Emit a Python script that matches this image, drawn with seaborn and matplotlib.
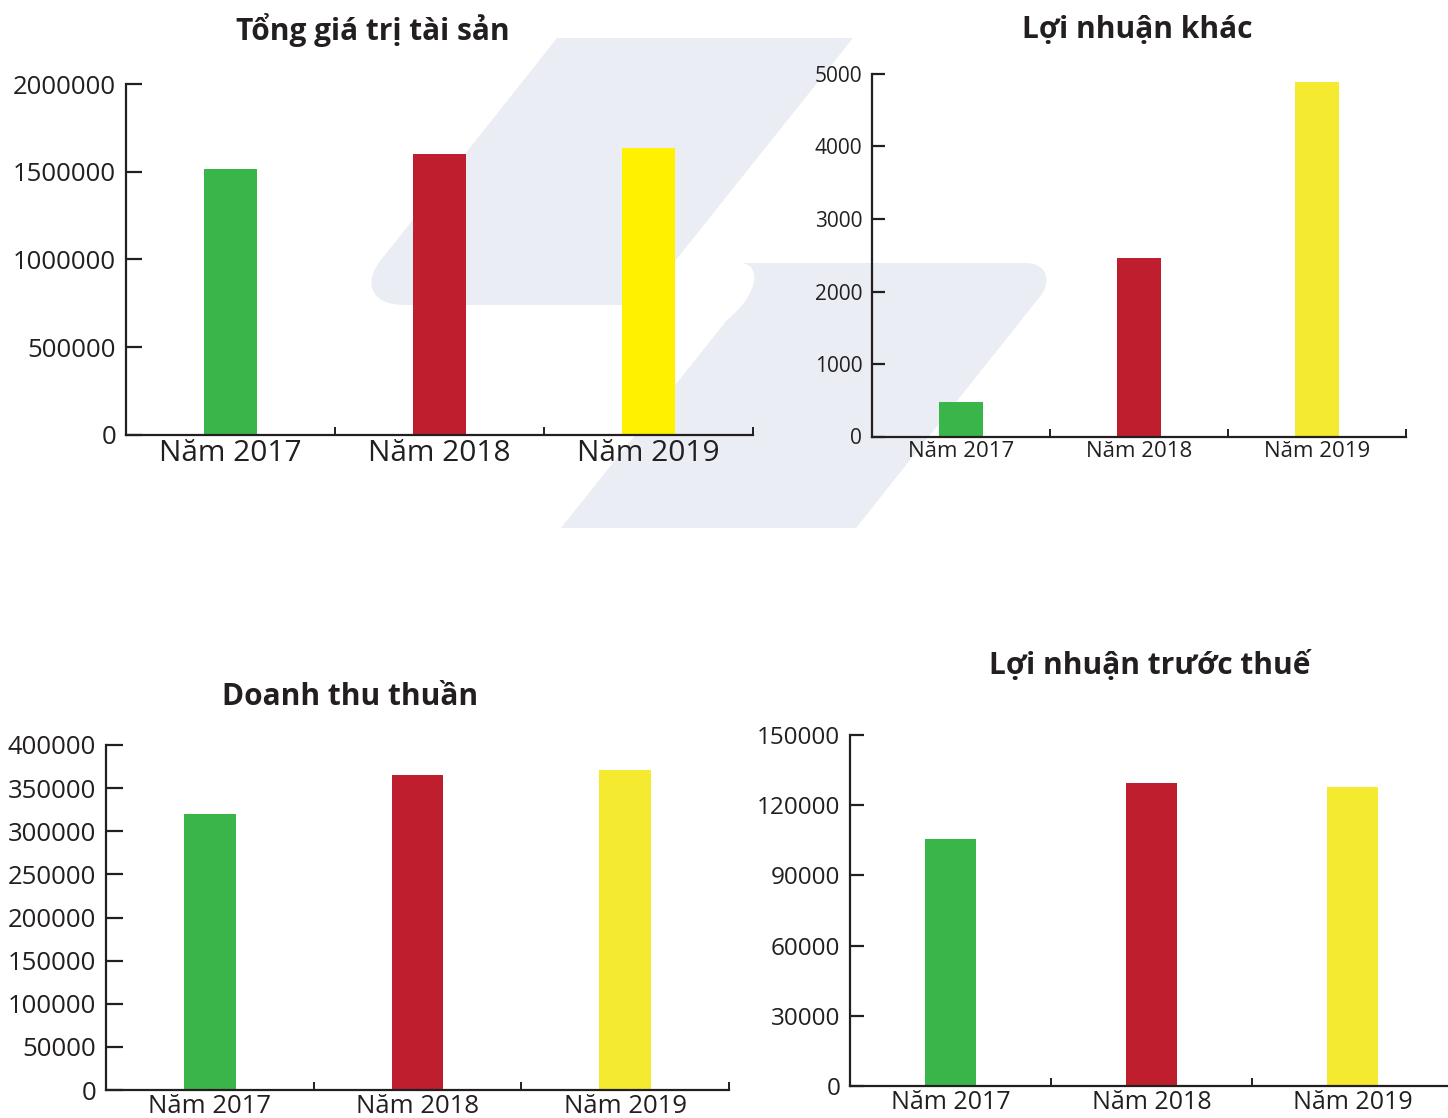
import matplotlib
matplotlib.use("Agg")
import matplotlib.pyplot as plt
from matplotlib.path import Path
from matplotlib.patches import PathPatch
import seaborn as sns
import pandas as pd

# ---- data -------------------------------------------------------------
years = ["Năm 2017", "Năm 2018", "Năm 2019"]

tong_gia_tri_tai_san = [1515000, 1600000, 1637000]
loi_nhuan_khac = [480, 2460, 4890]
doanh_thu_thuan = [320500, 365000, 371000]
loi_nhuan_truoc_thue = [105500, 129300, 127600]

ticks_tai_san = [0, 500000, 1000000, 1500000, 2000000]
ticks_ln_khac = [0, 1000, 2000, 3000, 4000, 5000]
ticks_doanh_thu = [0, 50000, 100000, 150000, 200000, 250000, 300000, 350000, 400000]
ticks_ln_truoc_thue = [0, 30000, 60000, 90000, 120000, 150000]

titles = ["Tổng giá trị tài sản", "Lợi nhuận khác", "Doanh thu thuần", "Lợi nhuận trước thuế"]

# ---- styling ----------------------------------------------------------
sns.set_theme(style="white")
plt.rcParams["font.family"] = ["Open Sans", "DejaVu Sans"]

GREEN = "#3AB54A"
RED = "#BE1E2D"
YELLOW_BRIGHT = "#FFF100"
YELLOW = "#F4EB31"
INK = "#231F20"
WATERMARK = "#EAEDF3"

W, H = 1448, 1118
fig = plt.figure(figsize=(W / 100, H / 100), dpi=100)
fig.patch.set_facecolor("white")


def px(x, y):
    """Pixel position (origin top-left) -> figure fraction."""
    return x / W, 1 - y / H


# ---- background logo ---------------------------------------------------
def add_shape(verts_codes):
    verts = [px(x, y) for (x, y), _ in verts_codes]
    codes = [c for _, c in verts_codes]
    patch = PathPatch(Path(verts, codes), facecolor=WATERMARK, edgecolor="none",
                      transform=fig.transFigure, zorder=-5)
    fig.patches.append(patch)


M, L, C = Path.MOVETO, Path.LINETO, Path.CURVE4
add_shape([
    ((557, 38), M), ((853, 38), L), ((640, 305), L), ((405, 305), L),
    ((368, 305), C), ((362, 280), C), ((385, 255), C),
    ((557, 38), L), ((557, 38), Path.CLOSEPOLY),
])
add_shape([
    ((742, 263), M), ((1025, 263), L),
    ((1045, 263), C), ((1052, 278), C), ((1042, 294), C),
    ((856, 528), L), ((561, 528), L), ((727, 320), L),
    ((758, 295), C), ((762, 266), C), ((742, 263), C),
    ((742, 263), Path.CLOSEPOLY),
])


# ---- charts ------------------------------------------------------------
def draw_chart(values, ticks, title, yellow, rect, ytick_fs, xtick_fs,
               title_xy, title_fs, ytick_len):
    left, top, right, bottom = rect
    x0, y0 = px(left, bottom)
    ax = fig.add_axes([x0, y0, (right - left) / W, (bottom - top) / H])
    ax.set_facecolor("none")

    df = pd.DataFrame({"year": years, "value": values})
    sns.barplot(data=df, x="year", y="value", hue="year",
                palette=[GREEN, RED, yellow], width=0.25, saturation=1,
                linewidth=0, legend=False, ax=ax)

    ax.set_xlim(-0.5, 2.5)
    ax.set_ylim(ticks[0], ticks[-1])
    ax.set_yticks(ticks)
    ax.set_yticklabels([str(t) for t in ticks])
    ax.set_xticks(range(len(years)))
    ax.set_xticklabels(years)
    ax.set_xticks([0.5, 1.5, 2.5], minor=True)
    ax.set_xlabel("")
    ax.set_ylabel("")

    for side in ("top", "right"):
        ax.spines[side].set_visible(False)
    for side in ("left", "bottom"):
        ax.spines[side].set_color(INK)
        ax.spines[side].set_linewidth(1.6)

    ax.tick_params(axis="y", which="major", direction="in", length=ytick_len,
                   width=1.6, color=INK, labelsize=ytick_fs, labelcolor=INK,
                   pad=7, left=True)
    ax.tick_params(axis="x", which="major", length=0, labelsize=xtick_fs,
                   labelcolor=INK, pad=3)
    ax.tick_params(axis="x", which="minor", direction="in", length=6,
                   width=1.4, color=INK, bottom=True)

    tx, ty = px(*title_xy)
    fig.text(tx, ty, title, ha="center", va="center", fontsize=title_fs,
             fontweight="bold", color=INK)
    return ax


draw_chart(tong_gia_tri_tai_san, ticks_tai_san, titles[0], YELLOW_BRIGHT,
           (126, 84, 753, 435), 18.5, 21.5, (373, 30), 21.5, 11.5)
draw_chart(loi_nhuan_khac, ticks_ln_khac, titles[1], YELLOW,
           (872, 74, 1406, 436.5), 15, 16, (1137, 30), 21.5, 9)
draw_chart(doanh_thu_thuan, ticks_doanh_thu, titles[2], YELLOW,
           (106, 745, 729, 1090), 18.5, 18.5, (350, 697), 21.5, 12)
draw_chart(loi_nhuan_truoc_thue, ticks_ln_truoc_thue, titles[3], YELLOW,
           (850, 735, 1453, 1086), 17.5, 18, (1150, 666), 21.5, 10)

fig.savefig("out.png", dpi=100)
